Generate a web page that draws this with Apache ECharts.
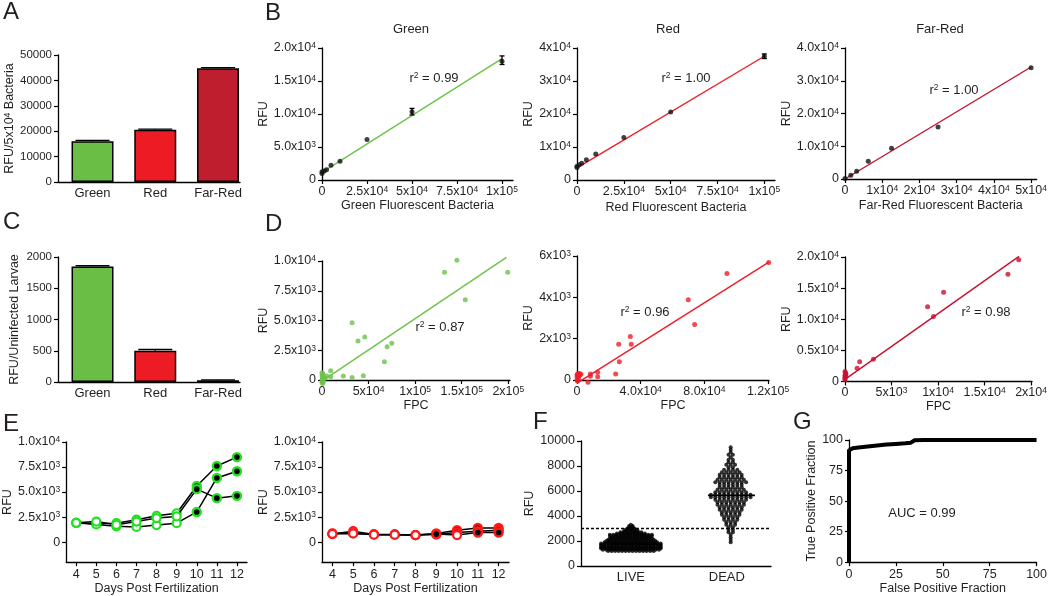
<!DOCTYPE html>
<html><head><meta charset="utf-8">
<script src="https://cdn.jsdelivr.net/npm/echarts@6/dist/echarts.min.js"></script>
<style>html,body{margin:0;padding:0;background:#fff}#c{width:1050px;height:596px}</style>
</head><body><div id="c"></div>
<script>
// ================= DATA =================
const barCategories = ['Green', 'Red', 'Far-Red'];
const aValues = [16000, 20600, 44800];
const aErrors = [350, 250, 250];
const cValues = [1850, 500, 30];
const cErrors = [10, 20, 5];

const bGreenPoints = [[0,1000],[0,1250],[1250,1350],[2500,1550],[5000,2250],[10000,2850],[25000,6150],[50000,10350],[100000,18000]];
const bGreenErr = [[50000,9850,10850],[100000,17500,18800]];
const bGreenFit = [[0,1150],[100000,18400]];
const bRedPoints = [[0,3800],[0,4150],[1250,4600],[2500,5100],[5000,6150],[10000,7900],[25000,12900],[50000,20600],[100000,37500]];
const bRedErr = [[100000,36800,38200]];
const bRedFit = [[0,3700],[100000,37500]];
const bFarRedPoints = [[0,150],[1562,1150],[3125,2400],[6250,5400],[12500,9400],[25000,15900],[50000,34000]];
const bFarRedFit = [[0,0],[50000,34200]];

const dGreenPoints = [[199300,9050],[144800,10060],[131500,9050],[153800,6750],[32300,4820],[38700,3280],[45900,3610],[69900,2800],[74900,3080],[67000,1540],[22900,340],[32300,200],[44400,360],[9300,780],[9300,280],[5000,340],[2100,220],[1000,500],[500,100],[0,-200],[0,0],[300,300],[1500,-100],[800,-300],[0,600],[200,400],[3000,150]];
const dGreenFit = [[0,-100],[198000,10300]];
const dRedPoints = [[120400,5680],[94200,5150],[69900,3880],[73900,2680],[33500,2100],[34100,1730],[26200,1730],[26600,880],[24300,290],[13000,370],[13000,160],[8400,290],[8400,180],[6900,-110],[1700,240],[1000,100],[500,300],[0,0],[0,150],[300,-50],[1500,320],[2500,280],[0,250],[800,200]];
const dRedFit = [[0,-150],[120500,5700]];
const dFarRedPoints = [[18670,19570],[17510,17210],[10600,14320],[8880,12010],[9510,10460],[1580,3160],[3050,3590],[1300,2140],[0,300],[0,700],[0,1000],[50,1400],[0,1600],[100,1200],[0,500],[80,900]];
const dFarRedFit = [[0,350],[18700,20100]];

const eDays = ['4','5','6','7','8','9','10','11','12'];
const eGreenSeries = [
  [1920,1830,1890,2240,2630,2880,5610,7600,8490],
  [1920,1760,1570,1510,1700,1890,3010,6410,7080],
  [1920,2050,1730,2050,2400,2560,5290,4390,4620]
];
const eGreenFilled = [
  [0,0,0,0,0,0,1,1,1],
  [0,0,0,0,0,0,1,1,1],
  [0,0,0,0,0,0,1,1,1]
];
const eRedSeries = [
  [800,1090,770,770,705,865,1190,1410,1410],
  [865,865,770,740,705,770,960,1090,1190],
  [830,870,740,740,705,800,705,960,960]
];
const eRedFilled = [
  [0,0,0,0,0,1,1,1,1],
  [0,0,0,0,0,1,1,1,1],
  [0,0,0,0,0,1,0,1,1]
];

const fCategories = ['LIVE', 'DEAD'];
// rows of the scatter dot plot: [RFU, number of dots in the row]
const fLiveRows = [[3300,1],[3200,2],[3100,2],[3000,3],[2900,4],[2800,5],[2700,7],[2600,9],[2500,13],[2400,13],[2300,12],[2200,13],[2100,14],[2000,15],[1900,16],[1800,18],[1700,18],[1600,18],[1500,18],[1400,18],[1300,17],[1200,14]];
const fDeadRows = [[9500,1],[9300,1],[9100,1],[8900,2],[8700,1],[8500,2],[8300,2],[8100,3],[7900,2],[7700,4],[7500,5],[7300,6],[7100,6],[6900,7],[6700,8],[6500,6],[6300,6],[6100,7],[5900,8],[5700,10],[5500,10],[5300,8],[5100,7],[4900,7],[4700,6],[4500,6],[4300,5],[4100,5],[3900,4],[3700,4],[3500,3],[3300,3],[3100,2],[2900,2],[2700,2],[2500,1],[2300,1],[2100,1],[1900,1]];
const fMeans = [1750, 5650];
const fThreshold = 3000;

const gRoc = [[0,0],[0,91.5],[0.5,92.5],[2,93.3],[5,93.8],[10,94.7],[15,95.5],[20,96.3],[25,96.8],[30,97.3],[33,97.8],[35,99.8],[40,100],[100,100]];

// tick labels
const aYTicks = [0,10000,20000,30000,40000,50000];
const aYLabels = ['0','10000','20000','30000','40000','50000'];
const cYTicks = [0,500,1000,1500,2000];
const cYLabels = ['0','500','1000','1500','2000'];
const bGreenXTicks = [0,25000,50000,75000,100000];
const bGreenXLabels = ['0','2.5x10^4','5x10^4','7.5x10^4','1x10^5'];
const bGreenYTicks = [0,5000,10000,15000,20000];
const bGreenYLabels = ['0','5.0x10^3','1.0x10^4','1.5x10^4','2.0x10^4'];
const bRedYTicks = [0,10000,20000,30000,40000];
const bRedYLabels = ['0','1x10^4','2x10^4','3x10^4','4x10^4'];
const bFarRedXTicks = [0,10000,20000,30000,40000,50000];
const bFarRedXLabels = ['0','1x10^4','2x10^4','3x10^4','4x10^4','5x10^4'];
const bFarRedYLabels = ['0','1.0x10^4','2.0x10^4','3.0x10^4','4.0x10^4'];
const dGreenXTicks = [0,50000,100000,150000,200000];
const dGreenXLabels = ['0','5x10^4','1x10^5','1.5x10^5','2x10^5'];
const dGreenYTicks = [0,2500,5000,7500,10000];
const dGreenYLabels = ['0','2.5x10^3','5.0x10^3','7.5x10^3','1.0x10^4'];
const dRedXTicks = [0,40000,80000,120000];
const dRedXLabels = ['0','4.0x10^4','8.0x10^4','1.2x10^5'];
const dRedYTicks = [0,2000,4000,6000];
const dRedYLabels = ['0','2x10^3','4x10^3','6x10^3'];
const dFarRedXTicks = [0,5000,10000,15000,20000];
const dFarRedXLabels = ['0','5x10^3','1x10^4','1.5x10^4','2x10^4'];
const dFarRedYTicks = [0,5000,10000,15000,20000];
const dFarRedYLabels = ['0','0.5x10^4','1.0x10^4','1.5x10^4','2.0x10^4'];
const eYTicks = [0,2500,5000,7500,10000];
const eYLabels = ['0','2.5x10^3','5.0x10^3','7.5x10^3','1.0x10^4'];
const fYTicks = [0,2000,4000,6000,8000,10000];
const fYLabels = ['0','2000','4000','6000','8000','10000'];
const gTicks = [0,25,50,75,100];
const gLabels = ['0','25','50','75','100'];

// ================= STYLE / LAYOUT =================
const FONT = '"Liberation Sans", Arial, Helvetica, sans-serif';
const TXT = '#231f20';
const C_GREEN_BAR = '#6abd45', C_RED_BAR = '#ed1c24', C_FARRED_BAR = '#be1e2d';
const C_GREEN = '#6cc24a', C_RED = '#ee1d25', C_FARRED = '#c8102e';
const E_GREEN = '#22e022', E_RED = '#ff1a1a';
const richSup = { sup: { fontSize: 8.5, verticalAlign: 'top', fontFamily: FONT, color: TXT } };
const fmt = s => String(s).replace(/\^(\d)/g, '{sup|$1}');

function axisBase() {
  return {
    axisLine: { show: true, onZero: false, lineStyle: { color: '#000', width: 1.3 } },
    splitLine: { show: false },
    nameLocation: 'middle'
  };
}
function vAxis(min, max, ticks, labels, o) {
  o = o || {};
  return Object.assign(axisBase(), {
    type: 'value', min: min, max: max,
    axisTick: { show: o.tickShow !== false, length: 4, lineStyle: { color: '#000', width: 1.2 }, customValues: ticks },
    axisLabel: {
      customValues: ticks, margin: o.margin != null ? o.margin : 6, fontFamily: FONT,
      fontSize: o.fontSize || 12.5, color: TXT, rich: richSup, hideOverlap: false, showMinLabel: true, showMaxLabel: true,
      formatter: v => { const i = ticks.findIndex(t => Math.abs(t - v) <= 1e-9 * Math.max(1, Math.abs(t))); return i < 0 ? '' : fmt(labels[i]); }
    },
    name: o.name ? fmt(o.name) : '', nameGap: o.nameGap || 20,
    nameTextStyle: { fontFamily: FONT, fontSize: o.nameSize || 12.5, color: TXT, rich: richSup }
  });
}
function cAxis(cats, o) {
  return Object.assign(axisBase(), {
    type: 'category', data: cats, boundaryGap: true,
    axisTick: { show: true, alignWithLabel: true, length: 4, lineStyle: { color: '#000', width: 1.2 } },
    axisLabel: { margin: 6, fontFamily: FONT, fontSize: 12.5, color: TXT, interval: 0 },
    name: o.name, nameGap: o.nameGap,
    nameTextStyle: { fontFamily: FONT, fontSize: 12.5, color: TXT }
  });
}

const grids = [], xAxes = [], yAxes = [], series = [], graphics = [];
function panel(box, xa, ya) {
  const i = grids.length;
  grids.push({ left: box[0], top: box[1], width: box[2], height: box[3] });
  xa.gridIndex = i; ya.gridIndex = i;
  xAxes.push(xa); yAxes.push(ya);
  return i;
}
function errSeries(idx, data, capHalf, lower) {
  return {
    type: 'custom', xAxisIndex: idx, yAxisIndex: idx, z: 5, clip: false, data: data,
    renderItem: (params, api) => {
      const x = api.value(0);
      const p1 = api.coord([x, api.value(1)]), p2 = api.coord([x, api.value(2)]);
      const st = { stroke: '#000', lineWidth: 1.3 };
      const ch = [
        { type: 'line', shape: { x1: p1[0], y1: p1[1], x2: p2[0], y2: p2[1] }, style: st },
        { type: 'line', shape: { x1: p2[0] - capHalf, y1: p2[1], x2: p2[0] + capHalf, y2: p2[1] }, style: st }
      ];
      if (lower) ch.push({ type: 'line', shape: { x1: p1[0] - capHalf, y1: p1[1], x2: p1[0] + capHalf, y2: p1[1] }, style: st });
      return { type: 'group', children: ch };
    }
  };
}
function barPanel(box, values, errs, yMax, yTicks, yLabels, yName) {
  const xPos = barCategories.map((c, k) => k + 1);
  const xa = vAxis(0.45, 3.35, xPos, barCategories, { tickShow: false, margin: 5, fontSize: 13 });
  const ya = vAxis(0, yMax, yTicks, yLabels, { fontSize: 11.5, margin: 6, name: yName, nameGap: 37, nameSize: 12.5 });
  const i = panel(box, xa, ya);
  const cols = [C_GREEN_BAR, C_RED_BAR, C_FARRED_BAR];
  series.push({
    type: 'bar', xAxisIndex: i, yAxisIndex: i, barWidth: 42, z: 2,
    data: values.map((v, k) => ({ value: [xPos[k], v], itemStyle: { color: cols[k], borderColor: '#000', borderWidth: 1.5 } }))
  });
  series.push(errSeries(i, values.map((v, k) => [xPos[k], v, v + errs[k]]), 17, false));
}
function scatterPanel(box, xr, yr, o) {
  const xa = vAxis(0, xr.max, xr.ticks, xr.labels, { margin: 5, name: o.xName, nameGap: o.xGap });
  const ya = vAxis(0, yr.max, yr.ticks, yr.labels, { margin: 6, name: 'RFU', nameGap: o.yGap });
  const i = panel(box, xa, ya);
  series.push({ type: 'line', xAxisIndex: i, yAxisIndex: i, data: o.fit, symbol: 'none', clip: false, z: 2,
    lineStyle: { color: o.lineColor, width: 1.4 } });
  series.push({ type: 'scatter', xAxisIndex: i, yAxisIndex: i, data: o.points, symbolSize: o.size || 5, clip: false, z: 3,
    itemStyle: { color: o.pointColor } });
  if (o.err) series.push(errSeries(i, o.err, 2.5, true));
  return i;
}

// ---- A ----
barPanel([58, 55, 182, 127], aValues, aErrors, 50000, aYTicks, aYLabels, 'RFU/5x10^4 Bacteria');
// ---- C ----
barPanel([58, 257, 182, 125], cValues, cErrors, 2000, cYTicks, cYLabels, 'RFU/Uninfected Larvae');

// ---- B ----
scatterPanel([322, 48, 191, 132], { max: 106100, ticks: bGreenXTicks, labels: bGreenXLabels },
  { max: 20000, ticks: bGreenYTicks, labels: bGreenYLabels },
  { xName: 'Green Fluorescent Bacteria', xGap: 19, yGap: 46, fit: bGreenFit, points: bGreenPoints, err: bGreenErr, lineColor: C_GREEN, pointColor: '#111' });
scatterPanel([577, 48, 198, 132], { max: 105700, ticks: bGreenXTicks, labels: bGreenXLabels },
  { max: 40000, ticks: bRedYTicks, labels: bRedYLabels },
  { xName: 'Red Fluorescent Bacteria', xGap: 21, yGap: 37, fit: bRedFit, points: bRedPoints, err: bRedErr, lineColor: C_RED, pointColor: '#111' });
scatterPanel([845, 48, 195, 131], { max: 51500, ticks: bFarRedXTicks, labels: bFarRedXLabels },
  { max: 40000, ticks: bRedYTicks, labels: bFarRedYLabels },
  { xName: 'Far-Red Fluorescent Bacteria', xGap: 20, yGap: 44, fit: bFarRedFit, points: bFarRedPoints, lineColor: C_FARRED, pointColor: '#111' });

// ---- D ----
scatterPanel([322, 261, 188, 119], { max: 201800, ticks: dGreenXTicks, labels: dGreenXLabels },
  { max: 10000, ticks: dGreenYTicks, labels: dGreenYLabels },
  { xName: 'FPC', xGap: 16, yGap: 45, fit: dGreenFit, points: dGreenPoints, lineColor: C_GREEN, pointColor: C_GREEN, size: 5 });
scatterPanel([577, 256, 192, 124], { max: 120600, ticks: dRedXTicks, labels: dRedXLabels },
  { max: 6000, ticks: dRedYTicks, labels: dRedYLabels },
  { xName: 'FPC', xGap: 15, yGap: 39, fit: dRedFit, points: dRedPoints, lineColor: C_RED, pointColor: C_RED, size: 5 });
scatterPanel([845, 257, 191, 124.5], { max: 20100, ticks: dFarRedXTicks, labels: dFarRedXLabels },
  { max: 20000, ticks: dFarRedYTicks, labels: dFarRedYLabels },
  { xName: 'FPC', xGap: 13, yGap: 45, fit: dFarRedFit, points: dFarRedPoints, lineColor: C_FARRED, pointColor: C_FARRED, size: 5 });

// ---- E ----
function ePanel(box, rows, flags, col, yGap) {
  const xa = cAxis(eDays, { name: 'Days Post Fertilization', nameGap: 17 });
  const ya = vAxis(-2000, 10000, eYTicks, eYLabels, { margin: 6, name: 'RFU', nameGap: yGap });
  const i = panel(box, xa, ya);
  rows.forEach((r, s) => {
    series.push({
      type: 'line', xAxisIndex: i, yAxisIndex: i, symbol: 'circle', symbolSize: 8, z: 3 + s,
      lineStyle: { color: '#000', width: 1.5 },
      data: r.map((v, k) => ({ value: v, itemStyle: flags[s][k]
        ? { color: '#000', borderColor: col, borderWidth: 2.4 }
        : { color: '#fff', borderColor: col, borderWidth: 2.2 } }))
    });
  });
}
ePanel([59, 442, 188, 124], eGreenSeries, eGreenFilled, E_GREEN, 46);
ePanel([322, 442, 187, 124], eRedSeries, eRedFilled, E_RED, 47);

// ---- F ----
(function () {
  const fPos = [0.5, 1.5];
  const xa = vAxis(-0.02, 1.96, fPos, fCategories, { tickShow: false, margin: 5, fontSize: 13 });
  const ya = vAxis(0, 10000, fYTicks, fYLabels, { margin: 6, name: 'RFU', nameGap: 38 });
  const gw = 190;
  const i = panel([581, 441, gw, 125], xa, ya);
  const unit = (1.96 + 0.02) / gw; // axis units per px
  function swarm(rows, c, px) {
    const out = [];
    rows.forEach(([v, n]) => { for (let j = 0; j < n; j++) out.push([c + (j - (n - 1) / 2) * px * unit, v]); });
    return out;
  }
  series.push({ type: 'scatter', xAxisIndex: i, yAxisIndex: i, symbolSize: 4, itemStyle: { color: '#000' }, z: 3, clip: false,
    data: swarm(fLiveRows, fPos[0], 3.5).concat(swarm(fDeadRows, fPos[1] + 0.04, 4.4)),
    markLine: { silent: true, symbol: 'none', label: { show: false },
      lineStyle: { color: '#000', type: [3, 2], width: 1.3 }, data: [{ yAxis: fThreshold }] } });
  fMeans.forEach((m, k) => {
    const c = fPos[k] + 0.048;
    series.push({ type: 'line', xAxisIndex: i, yAxisIndex: i, symbol: 'none', z: 4,
      lineStyle: { color: '#000', width: 1.6 }, data: [[c - 0.245, m], [c + 0.245, m]] });
  });
})();

// ---- G ----
(function () {
  const xa = vAxis(0, 100, gTicks, gLabels, { margin: 6, name: 'False Positive Fraction', nameGap: 18 });
  const ya = vAxis(0, 100, gTicks, gLabels, { margin: 6, name: 'True Positive Fraction', nameGap: 27 });
  const i = panel([849, 440, 188, 125], xa, ya);
  series.push({ type: 'line', xAxisIndex: i, yAxisIndex: i, data: gRoc, symbol: 'none', clip: false, z: 4,
    lineStyle: { color: '#000', width: 4, join: 'round' } });
})();

// ---- texts ----
function txt(x, y, s, size, align) {
  graphics.push({ type: 'text', x: x, y: y, silent: true,
    style: { text: fmt(s), fill: TXT, font: size + 'px ' + FONT, align: align || 'center', verticalAlign: 'middle',
      rich: { sup: { fontSize: 8.5, verticalAlign: 'top', fontFamily: FONT, fill: TXT } } } });
}
[['A',3,12],['B',265,13],['C',3,222],['D',265,224],['E',3,424],['F',533,422],['G',793,422]]
  .forEach(([l, x, y]) => txt(x, y, l, 24, 'left'));
txt(411, 29, 'Green', 13); txt(668, 29, 'Red', 13); txt(940, 29, 'Far-Red', 13);
txt(434, 78, 'r^2 = 0.99', 13); txt(686, 78, 'r^2 = 1.00', 13); txt(954, 90, 'r^2 = 1.00', 13);
txt(440, 327, 'r^2 = 0.87', 13); txt(645, 312, 'r^2 = 0.96', 13); txt(986, 312, 'r^2 = 0.98', 13);
txt(922, 513, 'AUC = 0.99', 13);

const chart = echarts.init(document.getElementById('c'), null, { renderer: 'canvas' });
chart.setOption({
  animation: false,
  backgroundColor: '#fff',
  textStyle: { fontFamily: FONT },
  grid: grids, xAxis: xAxes, yAxis: yAxes, series: series, graphic: graphics
});
</script></body></html>
